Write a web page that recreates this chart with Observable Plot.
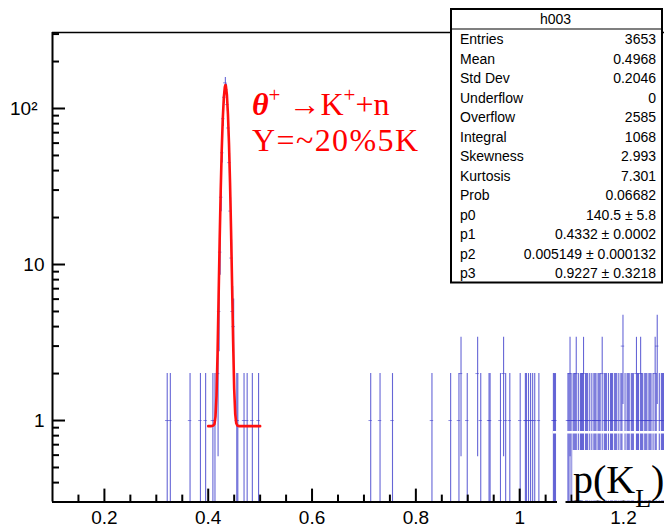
<!DOCTYPE html>
<html><head><meta charset="utf-8">
<script src="https://cdn.jsdelivr.net/npm/d3@7"></script>
<script src="https://cdn.jsdelivr.net/npm/@observablehq/plot@0.6"></script>
<style>
html,body{margin:0;padding:0;background:#fff;}
#wrap{position:relative;width:664px;height:529px;overflow:hidden;background:#fff;}
</style></head>
<body><div id="wrap"></div>
<script>
// ---- data ----
const binCenters = [
  0.321,0.327,0.365,0.385,0.395,0.409,0.413,0.419,
  0.421,0.423,0.425,0.427,0.429,0.431,0.433,0.435,0.437,0.439,0.441,0.443,0.445,0.447,0.449,
  0.455,0.457,0.469,0.475,0.485,0.497,
  0.713,0.731,0.755,0.831,0.867,0.883,0.887,0.899,0.919,0.925,0.941,0.943,0.963,0.969,0.973,0.981,
  1.001,1.011,1.013,1.017,1.021,1.025,1.029,1.037,1.065,1.067,1.069,
  1.093,1.095,1.097,1.099,1.103,1.105,1.107,1.109,1.113,1.117,1.119,1.121,1.123,1.127,1.129,1.131,1.135,1.139,
  1.143,1.145,1.147,1.151,1.153,1.155,1.159,1.163,1.165,1.167,1.171,1.175,1.177,1.179,1.183,1.185,1.187,
  1.191,1.195,1.197,1.199,1.203,1.207,1.209,1.211,1.215,1.217,1.219,1.225,1.227,1.229,
  1.233,1.235,1.237,1.241,1.243,1.245,1.249,1.251,1.253,1.257,1.261,1.263,1.265,1.269,1.273,1.275,1.277
];
const binCounts = [
  1,1,1,1,1,1,1,2,
  5,12,27,52,86,118,146,132,106,75,45,22,11,5,4,
  1,1,1,1,1,1,
  1,1,1,1,1,1,2,1,2,1,1,1,1,2,1,1,
  1,1,1,1,1,1,1,1,1,1,1,
  1,1,2,1,1,1,1,2,1,1,1,1,2,1,1,1,1,1,
  1,1,1,1,1,1,2,1,1,1,1,1,1,1,1,1,1,
  1,1,1,3,1,1,1,1,1,1,1,2,1,1,
  2,1,1,1,1,1,1,1,1,1,2,1,3,1,1,1,1
];
const fitX = [0.400,0.405,0.410,0.412,0.414,0.416,0.418,0.420,0.422,0.424,0.426,0.428,0.430,0.432,0.4332,
  0.434,0.436,0.438,0.440,0.442,0.444,0.446,0.448,0.450,0.452,0.454,0.456,0.460,0.470,0.480,0.490,0.500];
const fitY = [0.92,0.92,0.93,0.95,1.06,1.45,2.7,6.2,14.1,29.4,53.8,85.3,116.8,137.7,141.4,
  139.7,122.1,91.9,59.7,33.6,16.5,7.3,3.2,1.6,1.1,0.96,0.93,0.92,0.92,0.92,0.92,0.92];

const xTickValues = [0.2,0.4,0.6,0.8,1,1.2];
const xTickLabels = ["0.2","0.4","0.6","0.8","1","1.2"];
const xMinorTicks = [0.15,0.25,0.3,0.35,0.45,0.5,0.55,0.65,0.7,0.75,0.85,0.9,0.95,1.05,1.1,1.15,1.25];
const yTickValues = [1,10,100];
const yTickLabels = ["1","10","10²"];
const yMinorTicks = [0.4,0.5,0.6,0.7,0.8,0.9,2,3,4,5,6,7,8,9,20,30,40,50,60,70,80,90,200,300];

const statTitle = "h003";
const statNames = ["Entries","Mean","Std Dev","Underflow","Overflow","Integral","Skewness","Kurtosis","Prob","p0","p1","p2","p3"];
const statValues = ["3653","0.4968","0.2046","0","2585","1068","2.993","7.301","0.06682",
  "140.5 ± 5.8","0.4332 ± 0.0002","0.005149 ± 0.000132","0.9227 ± 0.3218"];

// ---- chart ----
const X0 = 0.1, X1 = 1.279, Y0 = 0.3, Y1 = 307;
const BLUE = "#4040cc", RED = "#ff1010";
const bins = binCenters.map((c, i) => {
  const n = binCounts[i];
  return {c, n, lo: Math.max(n - Math.sqrt(n), Y0), hi: n + Math.sqrt(n), a: c - 0.001, b: c + 0.001};
});
const fit = fitX.map((x, i) => ({x, y: fitY[i]}));

const plot = Plot.plot({
  width: 664, height: 529,
  marginLeft: 52, marginRight: 0, marginTop: 32, marginBottom: 27.4,
  x: {domain: [X0, X1], axis: null},
  y: {type: "log", domain: [Y0, Y1], axis: null},
  style: {background: "transparent", fontFamily: "'Liberation Sans', Arial, sans-serif", fontSize: "19px", color: "#000"},
  marks: [
    Plot.ruleX(bins, {x: "c", y1: "lo", y2: "hi", stroke: BLUE, strokeWidth: 1.1, strokeOpacity: 0.8}),
    Plot.ruleY(bins, {y: "n", x1: "a", x2: "b", stroke: BLUE, strokeWidth: 1, strokeOpacity: 0.6, insetLeft: -1.2, insetRight: -1.2}),
    Plot.line(fit, {x: "x", y: "y", stroke: RED, strokeWidth: 2.6, curve: "linear"}),
    // frame
    Plot.ruleY([Y1], {x1: X0, x2: X1, stroke: "#000", strokeWidth: 1.5}),
    Plot.ruleX([X0], {y1: Y0, y2: Y1, stroke: "#000", strokeWidth: 2}),
    Plot.ruleY([Y0], {x1: X0, x2: X1, stroke: "#000", strokeWidth: 2}),
    // x ticks (inward)
    Plot.ruleX(xTickValues, {x: d => d, y1: Y0, y2: Y0, insetTop: -13, stroke: "#000", strokeWidth: 2}),
    Plot.ruleX(xMinorTicks, {x: d => d, y1: Y0, y2: Y0, insetTop: -7, stroke: "#000", strokeWidth: 2}),
    // y ticks (inward)
    Plot.ruleY(yTickValues, {y: d => d, x1: X0, x2: X0, insetRight: -13, stroke: "#000", strokeWidth: 2}),
    Plot.ruleY(yMinorTicks, {y: d => d, x1: X0, x2: X0, insetRight: -7, stroke: "#000", strokeWidth: 2}),
    // tick labels
    Plot.text(xTickValues, {x: d => d, frameAnchor: "bottom", dy: 22, text: (d, i) => xTickLabels[i], fontSize: 19}),
    Plot.text(yTickValues.slice(0, 2), {y: d => d, frameAnchor: "left", dx: -8, textAnchor: "end", text: (d, i) => yTickLabels[i], fontSize: 19}),
    Plot.text(yTickValues.slice(2), {y: d => d, frameAnchor: "left", dx: -15, textAnchor: "end", text: (d, i) => yTickLabels[i + 2], fontSize: 19})
  ]
});
document.getElementById("wrap").appendChild(plot);

// ---- overlays: annotation, stats box, pasted label ----
const svg = d3.select(plot);
const ann = svg.append("g").attr("fill", "#ff0000").attr("text-anchor", "start")
  .attr("font-family", "'Liberation Serif', 'Times New Roman', serif");
const t1 = ann.append("text").attr("x", 252).attr("y", 115).attr("font-size", 32);
t1.append("tspan").attr("font-weight", "bold").attr("font-style", "italic").text("θ");
t1.append("tspan").attr("font-size", 21).attr("dy", -13).text("+");
t1.append("tspan").attr("dy", 13).text(" →K");
t1.append("tspan").attr("font-size", 21).attr("dy", -13).text("+");
t1.append("tspan").attr("dy", 13).text("+n");
ann.append("text").attr("x", 252).attr("y", 151).attr("font-size", 32)
  .attr("textLength", 166).attr("lengthAdjust", "spacing").text("Y=~20%5K");

// stats box
const sb = svg.append("g").attr("font-family", "'Liberation Sans', Arial, sans-serif").attr("font-size", 14)
  .attr("text-anchor", "start").attr("fill", "#000");
const bx = 451, by = 9, bw = 211, rowH = 19.5, headH = 20;
sb.append("rect").attr("x", bx).attr("y", by).attr("width", bw).attr("height", headH + rowH * statNames.length)
  .attr("fill", "#fff").attr("stroke", "#000").attr("stroke-width", 2);
sb.append("line").attr("x1", bx).attr("x2", bx + bw).attr("y1", by + headH).attr("y2", by + headH)
  .attr("stroke", "#000").attr("stroke-width", 1.2);
sb.append("text").attr("x", bx + bw / 2 - 1).attr("y", by + 15).attr("text-anchor", "middle").text(statTitle);
statNames.forEach((name, i) => {
  const yy = by + headH + rowH * i + 15;
  sb.append("text").attr("x", bx + 9).attr("y", yy).attr("text-anchor", "start").text(name);
  sb.append("text").attr("x", bx + bw - 6).attr("y", yy).attr("text-anchor", "end").text(statValues[i]);
});

// pasted "p(K_L)" label with white background
const pl = svg.append("g");
pl.append("rect").attr("x", 553).attr("y", 431).attr("width", 111).attr("height", 2.5).attr("fill", "#fff");
pl.append("rect").attr("x", 557).attr("y", 431).attr("width", 8.5).attr("height", 72).attr("fill", "#fff");
pl.append("rect").attr("x", 572.5).attr("y", 450).attr("width", 92).attr("height", 50.5).attr("fill", "#fff");
const pt = pl.append("text").attr("x", 573).attr("y", 493).attr("font-size", 40).attr("text-anchor", "start")
  .attr("font-family", "'Liberation Serif', 'Times New Roman', serif").attr("fill", "#000");
pt.append("tspan").text("p(K");
pt.append("tspan").attr("font-size", 26).attr("dy", 14).text("L");
pt.append("tspan").attr("dy", -14).text(")");
</script>
</body></html>
